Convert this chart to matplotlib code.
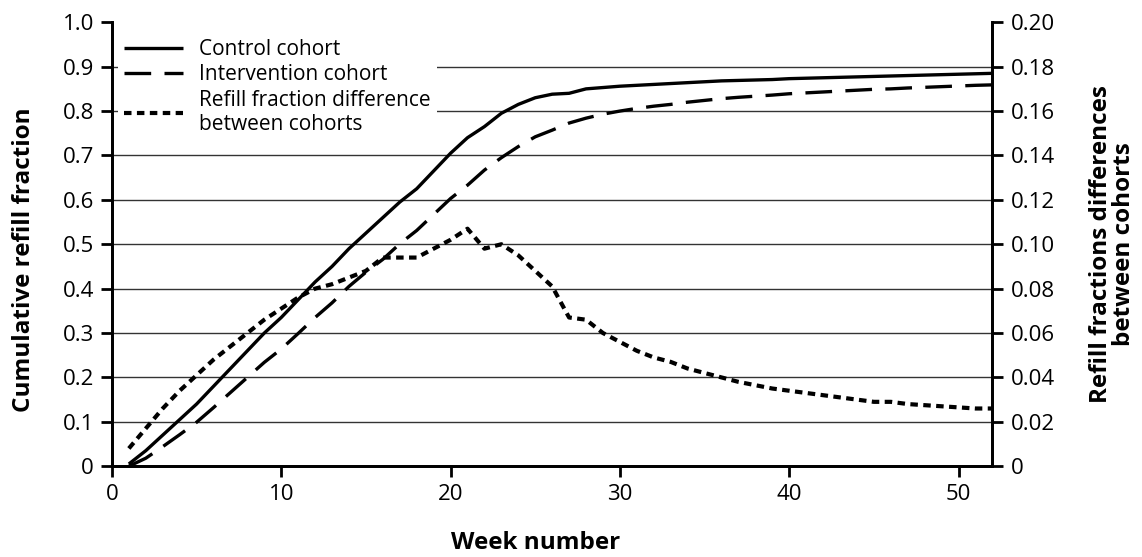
import matplotlib
matplotlib.use("Agg")
import matplotlib.pyplot as plt
import numpy as np

plt.rcParams['font.family'] = ['Open Sans', 'DejaVu Sans']

# data
weeks = list(range(1, 53))
control = [0.005, 0.035, 0.07, 0.105, 0.14, 0.18, 0.22, 0.26, 0.30, 0.335,
           0.375, 0.415, 0.45, 0.49, 0.525, 0.56, 0.595, 0.625, 0.665, 0.705,
           0.74, 0.765, 0.795, 0.815, 0.83, 0.838, 0.840, 0.850, 0.853, 0.856,
           0.858, 0.860, 0.862, 0.864, 0.866, 0.868, 0.869, 0.870, 0.871, 0.873,
           0.874, 0.875, 0.876, 0.877, 0.878, 0.879, 0.880, 0.881, 0.882, 0.883,
           0.884, 0.885]
intervention = [0.0, 0.018, 0.044, 0.071, 0.099, 0.132, 0.166, 0.200, 0.234, 0.264,
                0.299, 0.335, 0.368, 0.405, 0.437, 0.466, 0.501, 0.531, 0.567, 0.603,
                0.633, 0.667, 0.695, 0.720, 0.742, 0.757, 0.773, 0.784, 0.793, 0.800,
                0.806, 0.811, 0.815, 0.820, 0.824, 0.828, 0.831, 0.8335, 0.836, 0.839,
                0.841, 0.843, 0.845, 0.847, 0.849, 0.850, 0.852, 0.8535, 0.855, 0.8565,
                0.858, 0.859]
difference = [0.008, 0.017, 0.026, 0.034, 0.041, 0.048, 0.054, 0.060, 0.066, 0.071,
              0.076, 0.080, 0.082, 0.085, 0.088, 0.094, 0.094, 0.094, 0.098, 0.102,
              0.107, 0.098, 0.100, 0.095, 0.088, 0.081, 0.067, 0.066, 0.060, 0.056,
              0.052, 0.049, 0.047, 0.044, 0.042, 0.040, 0.038, 0.0365, 0.035, 0.034,
              0.033, 0.032, 0.031, 0.030, 0.029, 0.029, 0.028, 0.0275, 0.027, 0.0265,
              0.026, 0.026]

left_ticks = [0, 0.1, 0.2, 0.3, 0.4, 0.5, 0.6, 0.7, 0.8, 0.9, 1.0]
left_labels = ['0', '0.1', '0.2', '0.3', '0.4', '0.5', '0.6', '0.7', '0.8', '0.9', '1.0']
right_ticks = [0, 0.02, 0.04, 0.06, 0.08, 0.10, 0.12, 0.14, 0.16, 0.18, 0.20]
right_labels = ['0', '0.02', '0.04', '0.06', '0.08', '0.10', '0.12', '0.14', '0.16', '0.18', '0.20']
x_ticks = [0, 10, 20, 30, 40, 50]

fig = plt.figure(figsize=(11.42, 5.57), dpi=100)
ax = fig.add_axes([0.098, 0.163, 0.771, 0.797])
ax2 = ax.twinx()

l1, = ax.plot(weeks, control, color='black', lw=2.4, solid_capstyle='butt')
l2, = ax.plot(weeks, intervention, color='black', lw=2.4, dashes=(8, 4))
l3, = ax2.plot(weeks, difference, color='black', lw=3.0, dashes=(1.8, 1.3))

ax.set_xlim(0, 52)
ax.set_ylim(0, 1.0)
ax2.set_ylim(0, 0.2)

ax.set_xticks(x_ticks)
ax.set_yticks(left_ticks)
ax.set_yticklabels(left_labels)
ax2.set_yticks(right_ticks)
ax2.set_yticklabels(right_labels)

ax.grid(axis='y', color='#333333', lw=1.0)
ax.get_ygridlines()[-1].set_visible(False)
ax.set_axisbelow(True)

for a in (ax, ax2):
    a.spines['top'].set_visible(False)
    for s in ('left', 'right', 'bottom'):
        a.spines[s].set_linewidth(2.0)
    a.tick_params(width=2.0, length=8, labelsize=16, pad=5)

ax.set_xlabel('Week number', fontsize=17.5, fontweight='bold')
ax.xaxis.set_label_coords(0.481, -0.145)
ax.set_ylabel('Cumulative refill fraction', fontsize=17.5, fontweight='bold')
ax.yaxis.set_label_coords(-0.086, 0.465)
ax2.set_ylabel('Refill fractions differences\nbetween cohorts', fontsize=17.5,
               fontweight='bold', linespacing=0.95)
ax2.yaxis.set_label_coords(1.11, 0.5)

leg = ax2.legend([l1, l2, l3],
                 ['Control cohort', 'Intervention cohort',
                  'Refill fraction difference\nbetween cohorts'],
                 loc='upper left', bbox_to_anchor=(0.0, 0.99), fontsize=15,
                 frameon=True, fancybox=False, handlelength=2.8, handletextpad=0.8,
                 labelspacing=0.2, borderpad=0.3, borderaxespad=0.3)
leg.get_frame().set_edgecolor('none')
leg.get_frame().set_facecolor('white')
leg.get_frame().set_alpha(1)

fig.savefig('out.png', dpi=100)
